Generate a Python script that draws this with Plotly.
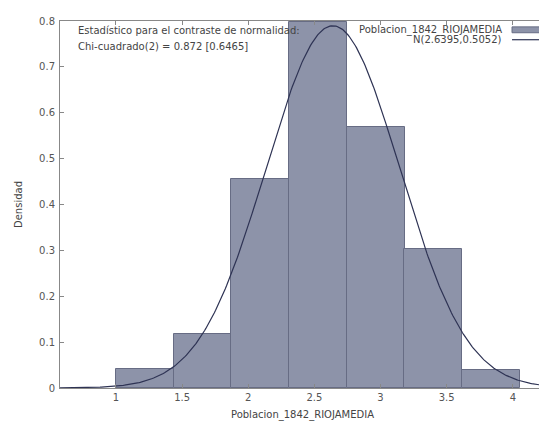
import numpy as np
import plotly.graph_objects as go

# Histogram data (density)
bin_centers = [1.218, 1.654, 2.090, 2.527, 2.963, 3.399, 3.835]
bin_width = 0.4362
densities = [0.0417, 0.118, 0.455, 0.797, 0.570, 0.303, 0.040]

# Fitted normal N(mu, sigma) as stated in the legend
MU = 2.6395
SIGMA = 0.5052

x_ticks = [1, 1.5, 2, 2.5, 3, 3.5, 4]
x_tick_labels = ["1", "1.5", "2", "2.5", "3", "3.5", "4"]
y_ticks = [0, 0.1, 0.2, 0.3, 0.4, 0.5, 0.6, 0.7, 0.8]
y_tick_labels = ["0", "0.1", "0.2", "0.3", "0.4", "0.5", "0.6", "0.7", "0.8"]

series_name = "Poblacion_1842_RIOJAMEDIA"
curve_name = "N(2.6395,0.5052)"
stat_line1 = "Estadístico para el contraste de normalidad:"
stat_line2 = "Chi-cuadrado(2) = 0.872 [0.6465]"

X_RANGE = [0.577, 4.243]
Y_RANGE = [0, 0.8]

FONT = "DejaVu Sans"
BAR_FILL = "#8d93a9"
BAR_LINE = "#676c84"
CURVE = "#2e3354"
TEXT = "#444444"

xs = np.linspace(X_RANGE[0], X_RANGE[1], 400)
ys = np.exp(-0.5 * ((xs - MU) / SIGMA) ** 2) / (SIGMA * np.sqrt(2 * np.pi))

fig = go.Figure()
fig.add_trace(go.Bar(
    x=bin_centers, y=densities, width=[bin_width] * len(bin_centers),
    marker=dict(color=BAR_FILL, line=dict(color=BAR_LINE, width=1)),
    showlegend=False, hoverinfo="skip",
))
fig.add_trace(go.Scatter(
    x=xs, y=ys, mode="lines", line=dict(color=CURVE, width=1.2),
    showlegend=False, hoverinfo="skip",
))

axis_common = dict(
    showgrid=False, zeroline=False, showline=True, linecolor="#888888",
    linewidth=1, mirror="ticks", ticks="inside", ticklen=4, tickcolor="#888888",
    tickfont=dict(family=FONT, size=10, color="#555555"),
)
fig.update_xaxes(range=X_RANGE, tickvals=x_ticks, ticktext=x_tick_labels,
                 title=dict(text=series_name, font=dict(family=FONT, size=10, color=TEXT), standoff=8),
                 **axis_common)
fig.update_yaxes(range=Y_RANGE, tickvals=y_ticks, ticktext=y_tick_labels,
                 ticklabelstandoff=2,
                 title=dict(text="Densidad", font=dict(family=FONT, size=10, color=TEXT), standoff=14),
                 **axis_common)

# Statistic text (top-left)
fig.add_annotation(xref="paper", yref="paper", x=0.033, y=0.975, xanchor="left", yanchor="middle",
                   text=stat_line1, showarrow=False, font=dict(family=FONT, size=10, color=TEXT))
fig.add_annotation(xref="paper", yref="paper", x=0.033, y=0.931, xanchor="left", yanchor="middle",
                   text=stat_line2, showarrow=False, font=dict(family=FONT, size=10, color=TEXT))

# Gnuplot-style legend (text then sample, top-right)
fig.add_annotation(xref="paper", yref="paper", x=0.9155, y=0.976, xanchor="right", yanchor="middle",
                   text=series_name, showarrow=False, font=dict(family=FONT, size=10, color=TEXT))
fig.add_annotation(xref="paper", yref="paper", x=0.9155, y=0.949, xanchor="right", yanchor="middle",
                   text=curve_name, showarrow=False, font=dict(family=FONT, size=10, color=TEXT))
fig.add_shape(type="rect", xref="paper", yref="paper", x0=0.932, x1=0.99, y0=0.968, y1=0.984,
              fillcolor=BAR_FILL, line=dict(color=BAR_LINE, width=1))
fig.add_shape(type="line", xref="paper", yref="paper", x0=0.932, x1=0.99, y0=0.949, y1=0.949,
              line=dict(color=CURVE, width=1.2))

# Margins compensate for the page's 8px body margin
fig.update_layout(
    width=547, height=424,
    margin=dict(l=52, r=10, t=7, b=44),
    plot_bgcolor="white", paper_bgcolor="white",
    bargap=0,
    showlegend=False,
)

fig.write_html("out.html")
